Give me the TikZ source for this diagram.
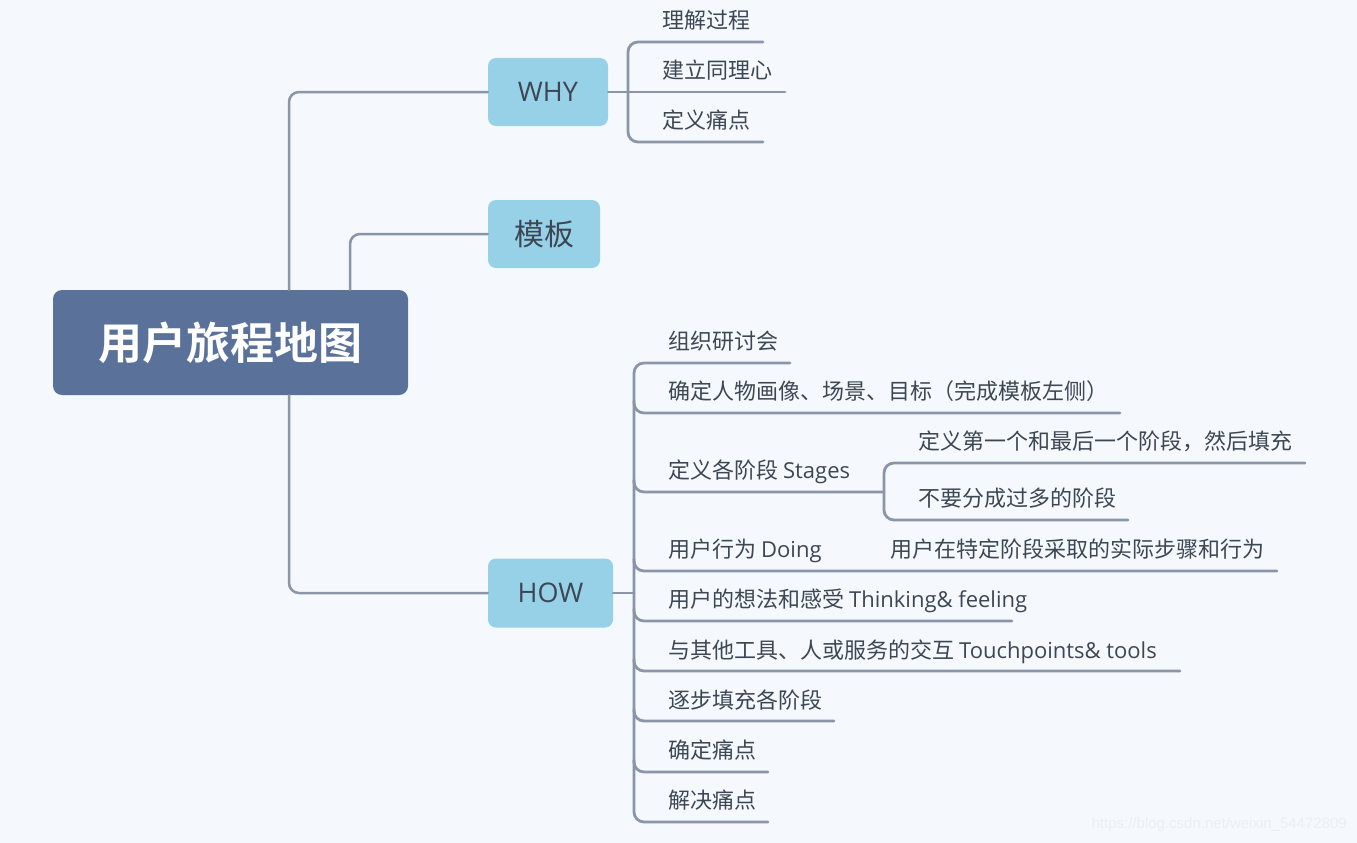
\documentclass[tikz,border=0pt]{standalone}
\usepackage{fontspec}
\newfontfamily\cjk{Noto Sans CJK SC}
\newfontfamily\cjkb{Noto Sans CJK SC Bold}
\newfontfamily\lat{Open Sans}
\newfontfamily\wm{Liberation Sans}
\definecolor{bgc}{HTML}{F5F9FD}
\definecolor{rootc}{HTML}{5A7299}
\definecolor{mainc}{HTML}{96D1E7}
\definecolor{linec}{HTML}{8A95A8}
\definecolor{txtc}{HTML}{3D4754}
\definecolor{wmc}{HTML}{EAEFF4}
\begin{document}
\begin{tikzpicture}[x=1pt,y=-1pt,
  conn/.style={draw=linec,line width=2.8pt,line cap=round},
  rconn/.style={conn,rounded corners=10pt},
  mainnode/.style={fill=mainc,rounded corners=8pt,text=txtc,inner sep=0pt},
  leaf/.style={anchor=base west,inner sep=0pt,text=txtc,font=\cjk\fontsize{22}{26}\selectfont}]
\fill[bgc] (0,0) rectangle (1357,843);
\useasboundingbox (0,0) rectangle (1357,843);
% root
\node[fill=rootc,rounded corners=9pt,minimum width=355pt,minimum height=105pt,inner sep=0pt,text=white,font=\cjkb\fontsize{44}{50}\selectfont] (root) at (230.5,342.5) {用户旅程地图};
% main nodes
\node[mainnode,minimum width=120pt,minimum height=68pt,font=\lat\fontsize{27}{30}\selectfont] (why) at (548,92) {WHY};
\node[mainnode,minimum width=112pt,minimum height=68pt,font=\cjk\fontsize{30}{34}\selectfont] (tpl) at (544,234) {模板};
\node[mainnode,minimum width=125pt,minimum height=69pt,font=\lat\fontsize{27}{30}\selectfont] (how) at (550.5,593) {HOW};
% root connectors
\draw[rconn,line width=2.5pt] ([xshift=58.5pt]root.north) |- (why.west);
\draw[rconn,line width=2.5pt] ([xshift=119.5pt]root.north) |- (tpl.west);
\draw[rconn,line width=2.5pt] ([xshift=58.5pt]root.south) |- (how.west);
% WHY children
\coordinate (wb) at (628,92);
\draw[conn] (why.east) -- (wb);
\draw[rconn] (763,42) -- (628,42) -- (628,142) -- (763,142);
\draw[conn] (wb) -- (785,92);
\node[leaf] (w1) at (662,28.5) {理解过程};
\node[leaf] (w2) at (662,78.5) {建立同理心};
\node[leaf] (w3) at (662,128.5) {定义痛点};
% HOW children
\coordinate (hb) at (634,593);
\draw[conn] (how.east) -- (hb);
\draw[rconn] (790,363) -- (634,363) -- (634,822) -- (768,822);
\foreach \y/\e in {413/1120,492/884,571/1277,621/1012,671/1180,721/834,772/768}{
  \draw[rconn] (634,\y-12) -- (634,\y) -- (\e,\y);
}
\node[leaf] (h1) at (668,349.5) {组织研讨会};
\node[leaf] (h2) at (668,399.5) {确定人物画像、场景、目标（完成模板左侧）};
\node[leaf] (h3) at (668,478.5) {定义各阶段 {\lat Stages}};
\node[leaf] (h4) at (668,557.5) {用户行为 {\lat Doing}};
\node[leaf] (h4a) at (890,557.5) {用户在特定阶段采取的实际步骤和行为};
\node[leaf] (h5) at (668,607.5) {用户的想法和感受 {\lat Thinking\& feeling}};
\node[leaf] (h6) at (668,658.5) {与其他工具、人或服务的交互 {\lat Touchpoints\& tools}};
\node[leaf] (h7) at (668,708.5) {逐步填充各阶段};
\node[leaf] (h8) at (668,758.5) {确定痛点};
\node[leaf] (h9) at (668,808.5) {解决痛点};
% Stages children
\draw[rconn] (1305,463) -- (884,463) -- (884,520) -- (1128,520);
\node[leaf] (s1) at (918,449.5) {定义第一个和最后一个阶段，然后填充};
\node[leaf] (s2) at (918,506.5) {不要分成过多的阶段};
% watermark
\node[anchor=east,inner sep=0pt,text=wmc,font=\wm\fontsize{15}{18}\selectfont] (wmk) at (1347,825) {https://blog.csdn.net/weixin\_54472809};
\end{tikzpicture}
\end{document}
